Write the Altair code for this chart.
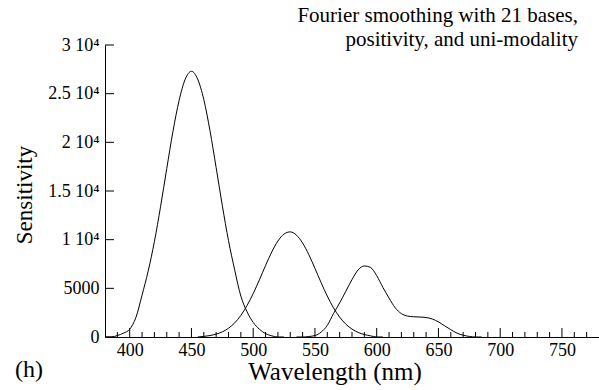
import altair as alt
import pandas as pd

# ---- data ----
wl_s = [380, 385, 390, 395, 400, 405, 410, 415, 420, 425, 430, 435, 440, 445, 450,
        455, 460, 465, 470, 475, 480, 485, 490, 495, 500, 505, 510, 515, 520, 525]
sens_s = [0, 0, 150, 400, 800, 2000, 4300, 6800, 9800, 13400, 17300, 21100, 24300, 26500, 27300,
          26500, 24400, 21200, 17400, 13500, 9900, 6900, 4200, 2600, 1500, 800, 350, 120, 0, 0]

wl_m = [455, 460, 465, 470, 475, 480, 485, 490, 495, 500, 505, 510, 515, 520, 525, 530,
        535, 540, 545, 550, 555, 560, 565, 570, 575, 580, 585, 590, 595, 600, 605]
sens_m = [0, 60, 150, 300, 530, 900, 1450, 2220, 3230, 4460, 5870, 7340, 8730, 9860, 10580, 10800,
          10470, 9650, 8470, 7050, 5580, 4200, 3000, 2040, 1320, 810, 470, 250, 120, 0, 0]

wl_l = [535, 540, 545, 550, 555, 560, 565, 570, 575, 580, 585, 590, 595, 600, 605, 610,
        615, 620, 625, 630, 635, 640, 645, 650, 655, 660, 665, 670, 675, 680, 685]
sens_l = [0, 0, 50, 150, 500, 1200, 2400, 3500, 4700, 5900, 6900, 7300, 7150, 6300, 5100, 4000,
          3000, 2400, 2150, 2080, 2050, 2000, 1850, 1550, 1150, 750, 400, 180, 60, 0, 0]

x_major = [400, 450, 500, 550, 600, 650, 700, 750]
x_minor = [v for v in range(390, 780, 10) if v % 50 != 0]
y_major = [0, 5000, 10000, 15000, 20000, 25000, 30000]

title_lines = ["Fourier smoothing with 21 bases,", "positivity, and uni-modality"]
x_title = "Wavelength (nm)"
y_title = "Sensitivity"
panel_tag = "(h)"

FONT = "Liberation Serif"
W, H = 494, 292

df = pd.concat([
    pd.DataFrame({"wl": wl_s, "s": sens_s, "cone": "S"}),
    pd.DataFrame({"wl": wl_m, "s": sens_m, "cone": "M"}),
    pd.DataFrame({"wl": wl_l, "s": sens_l, "cone": "L"}),
])

xscale = alt.Scale(domain=[380, 780], nice=False, zero=False)
yscale = alt.Scale(domain=[0, 30000], nice=False)

xaxis = alt.Axis(values=x_major, tickSize=0, labelPadding=4, labelFontSize=18, labelFont=FONT,
                 labelColor="black", domainColor="black", domainWidth=1, grid=False, title=None,
                 labelFlush=False)
yaxis = alt.Axis(values=y_major, tickSize=0, labelPadding=6, labelFontSize=18, labelFont=FONT,
                 labelColor="black", domainColor="black", domainWidth=1, grid=False, title=None,
                 labelExpr="datum.value == 0 ? '0' : datum.value == 5000 ? '5000' : (datum.value / 10000) + ' 10\u2074'")

lines = alt.Chart(df).mark_line(color="black", strokeWidth=1, interpolate="monotone").encode(
    x=alt.X("wl:Q", scale=xscale, axis=xaxis),
    y=alt.Y("s:Q", scale=yscale, axis=yaxis),
    detail="cone:N",
)

xmaj = alt.Chart(pd.DataFrame({"wl": x_major})).mark_rule(color="black", strokeWidth=1).encode(
    x=alt.X("wl:Q", scale=xscale, axis=xaxis),
    y=alt.value(H), y2=alt.value(H - 9),
)
xmin = alt.Chart(pd.DataFrame({"wl": x_minor})).mark_rule(color="black", strokeWidth=1).encode(
    x=alt.X("wl:Q", scale=xscale, axis=xaxis),
    y=alt.value(H), y2=alt.value(H - 5),
)
ymaj = alt.Chart(pd.DataFrame({"s": y_major})).mark_rule(color="black", strokeWidth=1).encode(
    y=alt.Y("s:Q", scale=yscale, axis=yaxis),
    x=alt.value(0), x2=alt.value(9),
)

one = pd.DataFrame({"k": [0]})
title_txt = alt.Chart(one).mark_text(text=title_lines, align="right", baseline="alphabetic",
                                     font=FONT, fontSize=21, lineHeight=24, color="black").encode(
    x=alt.value(473), y=alt.value(-23))
xt = alt.Chart(one).mark_text(text=x_title, align="center", baseline="alphabetic",
                              font=FONT, fontSize=25, color="black").encode(
    x=alt.value(230), y=alt.value(335))
yt = alt.Chart(one).mark_text(text=y_title, align="center", baseline="alphabetic", angle=270,
                              font=FONT, fontSize=23, color="black").encode(
    x=alt.value(-73), y=alt.value(150))
tag = alt.Chart(one).mark_text(text=panel_tag, align="left", baseline="alphabetic",
                               font=FONT, fontSize=24, color="black").encode(
    x=alt.value(-90), y=alt.value(332))

chart = alt.layer(lines, xmaj, xmin, ymaj, title_txt, xt, yt, tag).properties(
    width=W, height=H,
    padding={"left": 105, "top": 45, "right": 0, "bottom": 53},
    autosize=alt.AutoSizeParams(type="none"),
    background="white",
).configure_view(stroke=None)

chart.save("out.html", embed_options={"renderer": "svg", "actions": False})
